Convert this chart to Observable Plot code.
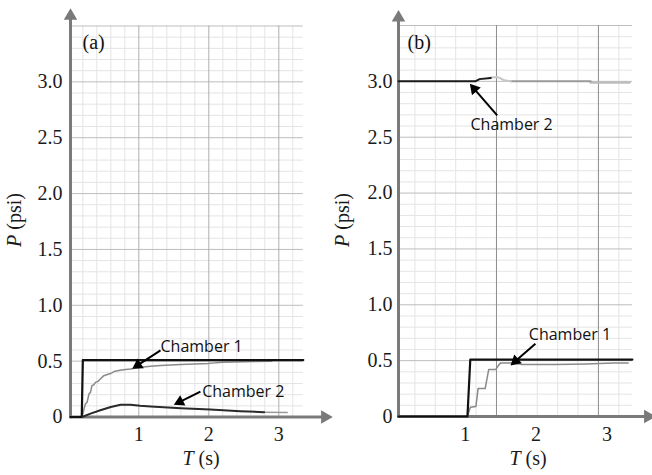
<!DOCTYPE html>
<html><head><meta charset="utf-8">
<script src="https://cdn.jsdelivr.net/npm/d3@7"></script>
<script src="https://cdn.jsdelivr.net/npm/@observablehq/plot@0.6"></script>
<style>
html,body{margin:0;padding:0;background:#fff;}
#wrap{position:relative;width:652px;height:475px;overflow:hidden;background:#fff;}
#wrap svg{position:absolute;top:0;overflow:visible;}
</style></head><body><div id="wrap"></div>
<script>
// ---------- shared ticks / grid ----------
const yTicks = [0, 0.5, 1.0, 1.5, 2.0, 2.5, 3.0];
const xTicks = [1, 2, 3];
const gridYMajor = [0.5, 1.0, 1.5, 2.0, 2.5, 3.0, 3.5];
const gridYMinor = [0.1,0.2,0.3,0.4,0.6,0.7,0.8,0.9,1.1,1.2,1.3,1.4,1.6,1.7,1.8,1.9,2.1,2.2,2.3,2.4,2.6,2.7,2.8,2.9,3.1,3.2,3.3,3.4];

// ---------- panel (a) ----------
const gridAMajorX = [1, 2, 3];
const gridAMinorX = [0.2,0.4,0.6,0.8,1.2,1.4,1.6,1.8,2.2,2.4,2.6,2.8,3.2];
const a1TargetT = [0.024, 0.185, 0.2, 3.35];
const a1TargetP = [0, 0, 0.51, 0.51];
const a1MeasT = [0.19,0.22,0.24,0.26,0.29,0.31,0.33,0.36,0.38,0.42,0.45,0.5,0.55,0.6,0.66,0.75,0.88,1.02,1.17,1.31,1.6,2.0,2.2,2.5,2.9];
const a1MeasP = [0,0.08,0.12,0.13,0.21,0.22,0.28,0.29,0.31,0.32,0.34,0.37,0.38,0.39,0.41,0.42,0.43,0.445,0.455,0.46,0.47,0.48,0.49,0.495,0.5];
const a2T = [0.19,0.31,0.45,0.6,0.74,0.88,1.02,1.17,1.6,2.02,2.45,2.79];
const a2P = [0,0.03,0.06,0.09,0.11,0.11,0.10,0.094,0.078,0.067,0.052,0.043];
const a2TailT = [2.79, 3.12];
const a2TailP = [0.043, 0.04];

// ---------- panel (b) ----------
const gridBMajorX = [1.44, 2.88];
const gridBMinorX = [0.288,0.576,0.864,1.152,1.728,2.016,2.304,2.592,3.168];
const b1TargetT = [0.056, 1.03, 1.07, 3.36];
const b1TargetP = [0, 0, 0.51, 0.51];
const b1MeasT = [1.03,1.07,1.15,1.18,1.28,1.33,1.43,1.47,1.5,1.66,1.8,2.27,2.7,3.1,3.3];
const b1MeasP = [0,0.083,0.09,0.25,0.25,0.42,0.42,0.46,0.48,0.48,0.465,0.465,0.47,0.478,0.48];
const b2DarkT = [0.056, 1.14, 1.2, 1.36];
const b2DarkP = [3.0, 3.0, 3.02, 3.03];
const b2BumpT = [1.36, 1.45, 1.55, 1.64];
const b2BumpP = [3.035, 3.04, 3.01, 3.0];
const b2MidT = [1.64, 2.77];
const b2MidP = [3.0, 3.0];
const b2TailT = [2.77, 3.32];
const b2TailP = [2.99, 2.99];

const H = 475;
const pts = (T, P) => T.map((t, i) => ({t, p: P[i]}));

function panel(o) {
  const kx = (o.width - o.ml - o.mr) / (o.xd[1] - o.xd[0]);
  const ky = (H - o.mt - o.mb) / 3.5;
  const r = 4.3, off = 6.7;
  const heads = o.arrows.map(a => {
    const dx = (a.t1 - a.t0) * kx, dy = -(a.p1 - a.p0) * ky;
    const len = Math.hypot(dx, dy), ux = dx / len, uy = dy / len;
    return {t0: a.t0, p0: a.p0, t: a.t1 - off * ux / kx, p: a.p1 + off * uy / ky,
            rot: Math.atan2(ux, -uy) * 180 / Math.PI};
  });
  const x0 = o.xd[0], x1 = o.xd[1];
  const marks = [
    Plot.ruleY(gridYMinor, {y: d => d, x1: x0, x2: x1, stroke: "#e4e4e4", strokeWidth: 1}),
    Plot.ruleX(o.minorX, {x: d => d, y1: 0, y2: 3.5, stroke: "#e4e4e4", strokeWidth: 1}),
    Plot.ruleY(gridYMajor, {y: d => d, x1: x0, x2: x1, stroke: "#bdbdbd", strokeWidth: 1}),
    Plot.ruleX(o.majorX, {x: d => d, y1: 0, y2: 3.5, stroke: o.majorColor, strokeWidth: 1}),
    // axis lines with arrow heads
    Plot.ruleX([x0], {x: d => d, y1: -0.015, y2: o.yArrow, stroke: "#7a7a7a", strokeWidth: 3}),
    Plot.ruleY([0], {y: d => d, x1: x0, x2: o.xArrow, stroke: "#7a7a7a", strokeWidth: 3}),
    Plot.dot([{t: x0, p: o.yArrow, rot: 0}, {t: o.xArrow, p: 0, rot: 90}],
      {x: "t", y: "p", symbol: "triangle", r: 5, rotate: "rot", fill: "#7a7a7a", stroke: "none"}),
    // series
    ...o.lines.map(l => Plot.line(pts(l.T, l.P), {x: "t", y: "p", stroke: l.c, strokeWidth: l.w, curve: "linear"})),
    // annotations
    Plot.link(heads, {x1: "t0", y1: "p0", x2: "t", y2: "p", stroke: "#000", strokeWidth: 2}),
    Plot.dot(heads, {x: "t", y: "p", symbol: "triangle", r, rotate: "rot", fill: "#000", stroke: "none"}),
    Plot.text(o.notes, {x: "t", y: "p", text: "s", textAnchor: "start", fontFamily: "Open Sans", fontSize: 16, fill: "#111"}),
    Plot.text([o.tag], {x: "t", y: "p", text: "s", textAnchor: "start", fontSize: 20, fill: "#111"})
  ];
  const svg = Plot.plot({
    width: o.width, height: H,
    marginLeft: o.ml, marginRight: o.mr, marginTop: o.mt, marginBottom: o.mb,
    style: {fontFamily: "Liberation Serif", fontSize: "20px", color: "#1a1a1a", background: "transparent", overflow: "visible"},
    x: {domain: o.xd, ticks: xTicks, tickSize: 0, tickPadding: 10, label: null, tickFormat: d => String(d)},
    y: {domain: [0, 3.5], ticks: yTicks, tickSize: 0, tickPadding: o.yPad, label: null,
        tickFormat: d => d === 0 ? "0" : d.toFixed(1)},
    marks
  });
  svg.style.left = o.left + "px";
  const s = d3.select(svg);
  const tx = s.append("text").attr("x", o.tX).attr("y", 465).attr("text-anchor", "middle")
    .attr("font-family", "Liberation Serif").attr("font-size", 20).attr("fill", "#1a1a1a");
  tx.append("tspan").attr("font-style", "italic").text("T");
  tx.append("tspan").text(" (s)");
  const ty = s.append("text").attr("transform", `translate(${o.pX},220) rotate(-90)`).attr("text-anchor", "middle")
    .attr("font-family", "Liberation Serif").attr("font-size", 20).attr("fill", "#1a1a1a");
  ty.append("tspan").attr("font-style", "italic").text("P");
  ty.append("tspan").text(" (psi)");
  return svg;
}

const wrap = document.getElementById("wrap");
wrap.appendChild(panel({
  left: 0, width: 330, ml: 70, mr: 27.2, mt: 25.5, mb: 58.5, xd: [0.024, 3.35], yPad: 8,
  majorX: gridAMajorX, minorX: gridAMinorX, majorColor: "#b0b0b0",
  yArrow: 3.59, xArrow: 3.66, tX: 201, pX: 21,
  lines: [
    {T: a2TailT, P: a2TailP, c: "#9a9a9a", w: 1.6},
    {T: a2T, P: a2P, c: "#2a2a2a", w: 2},
    {T: a1MeasT, P: a1MeasP, c: "#8a8a8a", w: 1.5},
    {T: a1TargetT, P: a1TargetP, c: "#111", w: 2.2}
  ],
  arrows: [{t0: 1.31, p0: 0.596, t1: 0.906, p1: 0.431}, {t0: 1.88, p0: 0.228, t1: 1.5, p1: 0.109}],
  notes: [{t: 1.31, p: 0.631, s: "Chamber 1"}, {t: 1.906, p: 0.228, s: "Chamber 2"}],
  tag: {t: 0.196, p: 3.353, s: "(a)"}
}));
wrap.appendChild(panel({
  left: 326, width: 326, ml: 72, mr: 20.1, mt: 25, mb: 59, xd: [0.056, 3.36], yPad: 6,
  majorX: gridBMajorX, minorX: gridBMinorX, majorColor: "#8c8c8c",
  yArrow: 3.57, xArrow: 3.58, tX: 202, pX: 23,
  lines: [
    {T: b2TailT, P: b2TailP, c: "#bdbdbd", w: 2.5},
    {T: b2MidT, P: b2MidP, c: "#9a9a9a", w: 2},
    {T: b2BumpT, P: b2BumpP, c: "#c8c8c8", w: 2},
    {T: b2DarkT, P: b2DarkP, c: "#1a1a1a", w: 2},
    {T: b1MeasT, P: b1MeasP, c: "#8a8a8a", w: 1.5},
    {T: b1TargetT, P: b1TargetP, c: "#111", w: 2.2}
  ],
  arrows: [{t0: 1.45, p0: 2.695, t1: 1.063, p1: 2.978}, {t0: 1.99, p0: 0.651, t1: 1.638, p1: 0.457}],
  notes: [{t: 1.073, p: 2.614, s: "Chamber 2"}, {t: 1.897, p: 0.734, s: "Chamber 1"}],
  tag: {t: 0.184, p: 3.35, s: "(b)"}
}));
</script></body></html>
